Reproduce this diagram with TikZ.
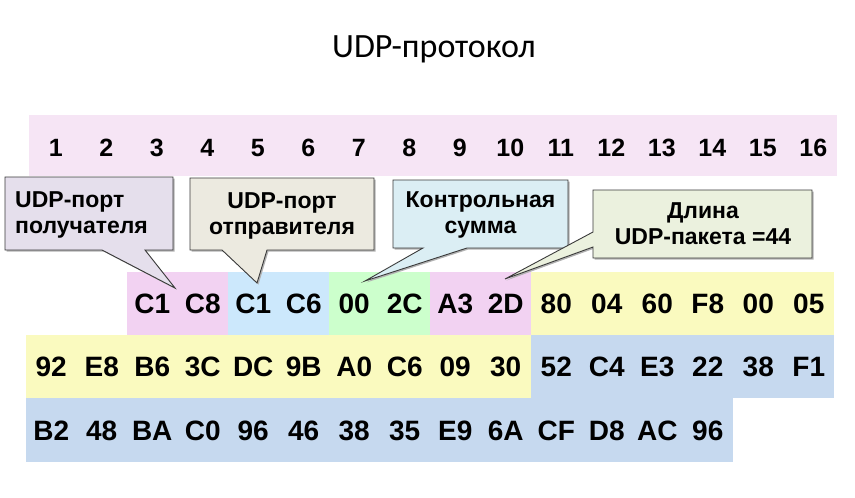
\documentclass[tikz,border=0pt]{standalone}
\usepackage{fontspec}
\setmainfont{Liberation Sans}
\newfontfamily\titlefont{Carlito}
\definecolor{bandpink}{HTML}{F6E5F5}
\definecolor{cpink}{HTML}{F2D2F2}
\definecolor{cblue}{HTML}{CCE8FC}
\definecolor{cgreen}{HTML}{CCFFCC}
\definecolor{cyellow}{HTML}{FAFABF}
\definecolor{csteel}{HTML}{C6D9EF}
\definecolor{fillA}{HTML}{E5DFEC}
\definecolor{fillB}{HTML}{ECEAE0}
\definecolor{fillC}{HTML}{DBEEF4}
\definecolor{fillD}{HTML}{EBF1DE}
\definecolor{edge}{HTML}{3A3A3A}
\begin{document}
\begin{tikzpicture}[x=1pt,y=-1pt,
  hexcell/.style={inner sep=0pt,anchor=base,font=\fontsize{28}{30}\selectfont\bfseries},
  numcell/.style={inner sep=0pt,anchor=base,font=\fontsize{25}{28}\selectfont\bfseries},
  calltext/.style={inner sep=0pt,anchor=base,font=\fontsize{23}{26}\selectfont\bfseries},
  callout/.style={draw=edge,line width=0.9pt,line join=miter},
  callshadow/.style={fill=black!30,draw=none}]
\useasboundingbox (0,0) rectangle (855,498);
% title
\node[anchor=base,inner sep=0pt,font=\titlefont\fontsize{34}{40}\selectfont] (title) at (434,57) {UDP-протокол};
% top band
\fill[bandpink] (29,115) rectangle (837,176);
\foreach \i in {1,...,16} {
  \node[numcell] (n\i) at ({55.8+50.5*(\i-1)},156.5) {\i};
}
% row backgrounds
\fill[cpink]   (127,272) rectangle (228,335);
\fill[cblue]   (228,272) rectangle (329,335);
\fill[cgreen]  (329,272) rectangle (430,335);
\fill[cpink]   (430,272) rectangle (531,335);
\fill[cyellow] (531,272) rectangle (834,335);
\fill[cyellow] (26,335) rectangle (531,398);
\fill[csteel]  (531,335) rectangle (834,398);
\fill[csteel]  (26,398) rectangle (733,462);
% row 1
\foreach \v [count=\k from 3] in {C1,C8,C1,C6,00,2C,A3,2D,80,04,60,F8,00,05} {
  \node[hexcell] (ra\k) at ({51.25+50.5*(\k-1)},313.5) {\v};
}
% row 2
\foreach \v [count=\k] in {92,E8,B6,3C,DC,9B,A0,C6,09,30,52,C4,E3,22,38,F1} {
  \node[hexcell] (rb\k) at ({51.25+50.5*(\k-1)},376.5) {\v};
}
% row 3
\foreach \v [count=\k] in {B2,48,BA,C0,96,46,38,35,E9,6A,CF,D8,AC,96} {
  \node[hexcell] (rc\k) at ({51.25+50.5*(\k-1)},440) {\v};
}
% callout 1
\fill[callshadow] (6.5,178.5) -- (174.5,178.5) -- (174.5,251.5) -- (146.5,251.5) -- (176.5,289.5) -- (103.5,251.5) -- (6.5,251.5) -- cycle;
\filldraw[callout,fill=fillA] (5,177) -- (173,177) -- (173,250) -- (145,250) -- (175,288) -- (102,250) -- (5,250) -- cycle;
\node[calltext,anchor=base west] (cA1) at (15,207.7) {UDP-порт};
\node[calltext,anchor=base west] (cA2) at (15,233.5) {получателя};
% callout 2
\fill[callshadow] (191.5,179.5) -- (375.5,179.5) -- (375.5,251.5) -- (268.5,251.5) -- (258.5,284.5) -- (223.5,251.5) -- (191.5,251.5) -- cycle;
\filldraw[callout,fill=fillB] (190,178) -- (374,178) -- (374,250) -- (267,250) -- (257,283) -- (222,250) -- (190,250) -- cycle;
\node[calltext] (cB1) at (282,208) {UDP-порт};
\node[calltext] (cB2) at (282,234) {отправителя};
% callout 3
\fill[callshadow] (394.5,181.5) -- (569.5,181.5) -- (569.5,249.5) -- (468.5,249.5) -- (366.5,282.5) -- (424.5,249.5) -- (394.5,249.5) -- cycle;
\filldraw[callout,fill=fillC] (393,180) -- (568,180) -- (568,248) -- (467,248) -- (365,281) -- (423,248) -- (393,248) -- cycle;
\node[calltext] (cC1) at (480.5,207.7) {Контрольная};
\node[calltext] (cC2) at (480.5,233.5) {сумма};
% callout 4
\fill[callshadow] (594.5,191.5) -- (813.5,191.5) -- (813.5,259.5) -- (594.5,259.5) -- (594.5,248.5) -- (506.5,280.5) -- (594.5,233.5) -- cycle;
\filldraw[callout,fill=fillD] (593,190) -- (812,190) -- (812,258) -- (593,258) -- (593,247) -- (505,279) -- (593,232) -- cycle;
\node[calltext] (cD1) at (703,218.3) {Длина};
\node[calltext] (cD2) at (703,244.5) {UDP-пакета =44};
\end{tikzpicture}
\end{document}
